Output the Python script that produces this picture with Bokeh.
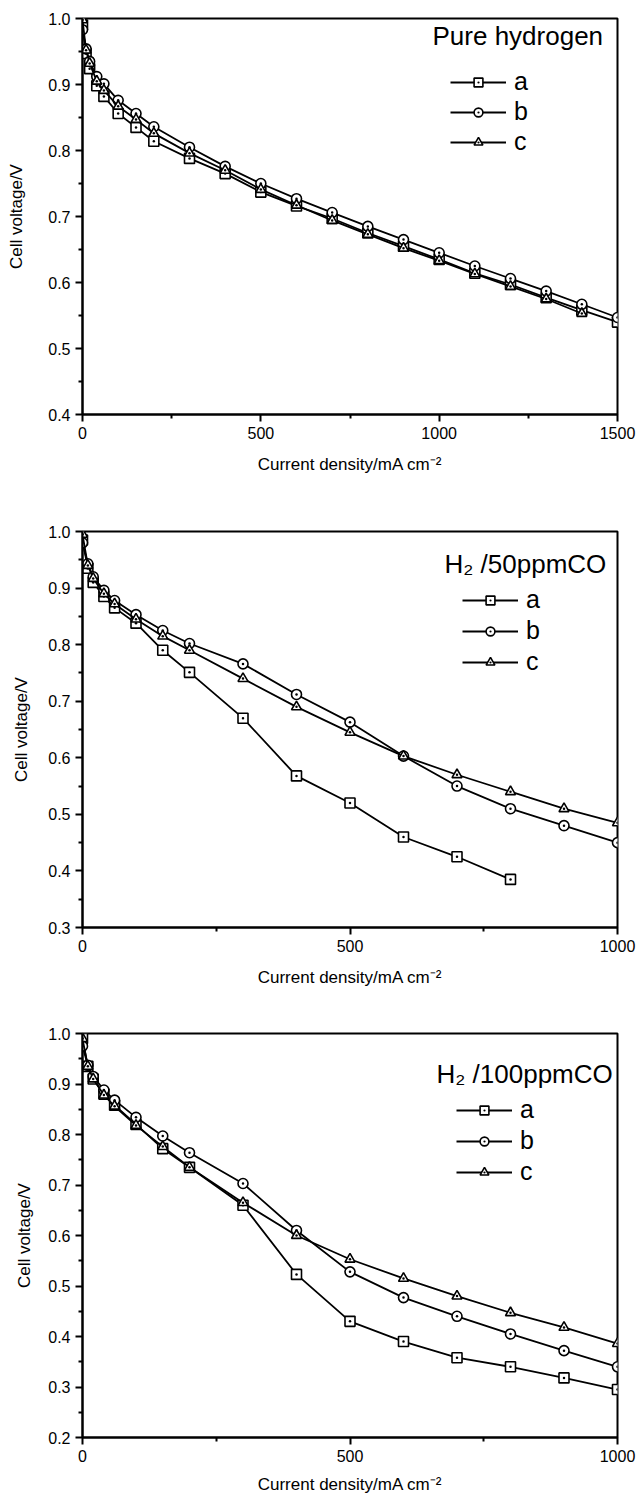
from bokeh.plotting import figure
from bokeh.layouts import column
from bokeh.models import (FixedTicker, NumeralTickFormatter, Legend, LegendItem,
                          Label, Range1d)
from bokeh.embed import file_html
from bokeh.resources import INLINE

FONT = "Liberation Sans"

# ---------------- data ----------------
series_labels = ["a", "b", "c"]
series_markers = ["square_dot", "circle_dot", "triangle_dot"]

# Panel 1: pure hydrogen
x_pure = [0, 10, 20, 40, 60, 100, 150, 200, 300, 400, 500, 600, 700, 800,
          900, 1000, 1100, 1200, 1300, 1400, 1500]
pure_a = [0.99, 0.947, 0.924, 0.898, 0.882, 0.856, 0.835, 0.814, 0.788, 0.765,
          0.737, 0.716, 0.697, 0.675, 0.655, 0.635, 0.614, 0.597, 0.577, 0.558, 0.540]
pure_b = [0.983, 0.954, 0.935, 0.912, 0.901, 0.876, 0.856, 0.836, 0.805, 0.776,
          0.750, 0.727, 0.706, 0.685, 0.665, 0.645, 0.625, 0.606, 0.587, 0.567, 0.547]
x_pure_c = [0, 10, 20, 40, 60, 100, 150, 200, 300, 400, 500, 600, 700, 800,
            900, 1000, 1100, 1200, 1300, 1400]
pure_c = [0.998, 0.952, 0.932, 0.905, 0.891, 0.867, 0.847, 0.826, 0.796, 0.770,
          0.741, 0.717, 0.694, 0.673, 0.652, 0.633, 0.613, 0.594, 0.575, 0.553]

# Panel 2: H2 / 50 ppm CO
x_co50_a = [0, 10, 20, 40, 60, 100, 150, 200, 300, 400, 500, 600, 700, 800]
co50_a = [0.985, 0.935, 0.910, 0.885, 0.865, 0.838, 0.790, 0.751, 0.670, 0.568,
          0.520, 0.460, 0.425, 0.385]
x_co50 = [0, 10, 20, 40, 60, 100, 150, 200, 300, 400, 500, 600, 700, 800, 900, 1000]
co50_b = [0.980, 0.943, 0.920, 0.896, 0.878, 0.853, 0.825, 0.802, 0.766, 0.712,
          0.663, 0.603, 0.550, 0.510, 0.480, 0.450]
co50_c = [0.995, 0.940, 0.917, 0.890, 0.872, 0.845, 0.815, 0.790, 0.740, 0.690,
          0.645, 0.603, 0.570, 0.540, 0.510, 0.485]

# Panel 3: H2 / 100 ppm CO
x_co100 = [0, 10, 20, 40, 60, 100, 150, 200, 300, 400, 500, 600, 700, 800, 900, 1000]
co100_a = [0.990, 0.935, 0.910, 0.880, 0.858, 0.820, 0.772, 0.735, 0.660, 0.523,
           0.430, 0.390, 0.358, 0.340, 0.318, 0.295]
co100_b = [0.975, 0.937, 0.915, 0.888, 0.868, 0.834, 0.797, 0.764, 0.703, 0.610,
           0.528, 0.477, 0.440, 0.405, 0.372, 0.340]
co100_c = [0.990, 0.935, 0.910, 0.878, 0.856, 0.818, 0.776, 0.735, 0.665, 0.600,
           0.553, 0.515, 0.480, 0.447, 0.418, 0.386]

panel_titles = ["Pure hydrogen", "H\u2082 /50ppmCO", "H\u2082 /100ppmCO"]
x_label = "Current density/mA cm\u207b\u00b2"
y_label = "Cell voltage/V"


def make_panel(xs, ys, title, xmax, ymin, xticks, xminor, yticks, yminor,
               left, right, top, bottom, height, leg_xy, leg_spacing, title_xy,
               ylab_standoff, xlab_standoff):
    p = figure(width=640, height=height,
               x_range=Range1d(0, xmax), y_range=Range1d(ymin, 1.0),
               output_backend="svg", toolbar_location=None,
               min_border_left=left, min_border_right=right,
               min_border_top=top, min_border_bottom=bottom,
               background_fill_color="white", border_fill_color="white")
    p.grid.visible = False
    p.outline_line_color = "black"
    p.outline_line_width = 2
    p.outline_line_alpha = 1

    p.xaxis.ticker = FixedTicker(ticks=xticks, minor_ticks=xminor)
    p.yaxis.ticker = FixedTicker(ticks=yticks, minor_ticks=yminor)
    p.yaxis.formatter = NumeralTickFormatter(format="0.0")
    for ax in (p.xaxis, p.yaxis):
        ax.axis_line_width = 2
        ax.major_tick_line_width = 2
        ax.minor_tick_line_width = 2
        ax.major_tick_in = 0
        ax.major_tick_out = 7
        ax.minor_tick_in = 0
        ax.minor_tick_out = 4
        ax.major_label_text_font = FONT
        ax.major_label_text_font_size = "16px"
        ax.major_label_text_color = "black"
        ax.axis_label_text_font = FONT
        ax.axis_label_text_font_size = "17px"
        ax.axis_label_text_font_style = "normal"
        ax.axis_label_text_color = "black"
        ax.major_label_standoff = 5
    p.xaxis.axis_label = x_label
    p.yaxis.axis_label = y_label
    p.xaxis.axis_label_standoff = xlab_standoff
    p.yaxis.axis_label_standoff = ylab_standoff

    items = []
    for (x, y), lab, mk in zip(zip(xs, ys), series_labels, series_markers):
        lr = p.line(x, y, line_color="black", line_width=1.8)
        sr = p.scatter(x, y, marker=mk, size=10, fill_color="white",
                       line_color="black", line_width=1.6)
        items.append(LegendItem(label=lab, renderers=[lr, sr]))

    leg = Legend(items=items, location=leg_xy, orientation="vertical",
                 glyph_width=56, glyph_height=22, label_height=28,
                 label_standoff=8, spacing=leg_spacing, padding=0, margin=0,
                 border_line_color=None, background_fill_alpha=0,
                 label_text_font=FONT, label_text_font_size="25px",
                 label_text_color="black")
    p.add_layout(leg)

    p.add_layout(Label(x=title_xy[0], y=title_xy[1], x_units="screen",
                       y_units="screen", text=title, text_font=FONT,
                       text_font_size="26px", text_baseline="middle",
                       text_align="left", text_color="black"))
    return p


p1 = make_panel([x_pure, x_pure, x_pure_c], [pure_a, pure_b, pure_c],
                panel_titles[0], 1500, 0.4,
                [0, 500, 1000, 1500], [250, 750, 1250],
                [0.4, 0.5, 0.6, 0.7, 0.8, 0.9, 1.0],
                [0.45, 0.55, 0.65, 0.75, 0.85, 0.95],
                left=82, right=9, top=18, bottom=86, height=500,
                leg_xy=(368, 258), leg_spacing=1, title_xy=(350, 379),
                ylab_standoff=19, xlab_standoff=13)

p2 = make_panel([x_co50_a, x_co50, x_co50], [co50_a, co50_b, co50_c],
                panel_titles[1], 1000, 0.3,
                [0, 500, 1000], [250, 750],
                [0.3, 0.4, 0.5, 0.6, 0.7, 0.8, 0.9, 1.0],
                [0.35, 0.45, 0.55, 0.65, 0.75, 0.85, 0.95],
                left=75, right=23, top=31, bottom=73, height=500,
                leg_xy=(380, 251), leg_spacing=2, title_xy=(362, 364),
                ylab_standoff=14, xlab_standoff=13)

p3 = make_panel([x_co100, x_co100, x_co100], [co100_a, co100_b, co100_c],
                panel_titles[2], 1000, 0.2,
                [0, 500, 1000], [250, 750],
                [0.2, 0.3, 0.4, 0.5, 0.6, 0.7, 0.8, 0.9, 1.0],
                [0.25, 0.35, 0.45, 0.55, 0.65, 0.75, 0.85, 0.95],
                left=72, right=9, top=33, bottom=62, height=499,
                leg_xy=(374, 251), leg_spacing=2, title_xy=(354, 364),
                ylab_standoff=11, xlab_standoff=10)

layout = column(p1, p2, p3, spacing=0)
open("out.html", "w").write(file_html(layout, INLINE))
